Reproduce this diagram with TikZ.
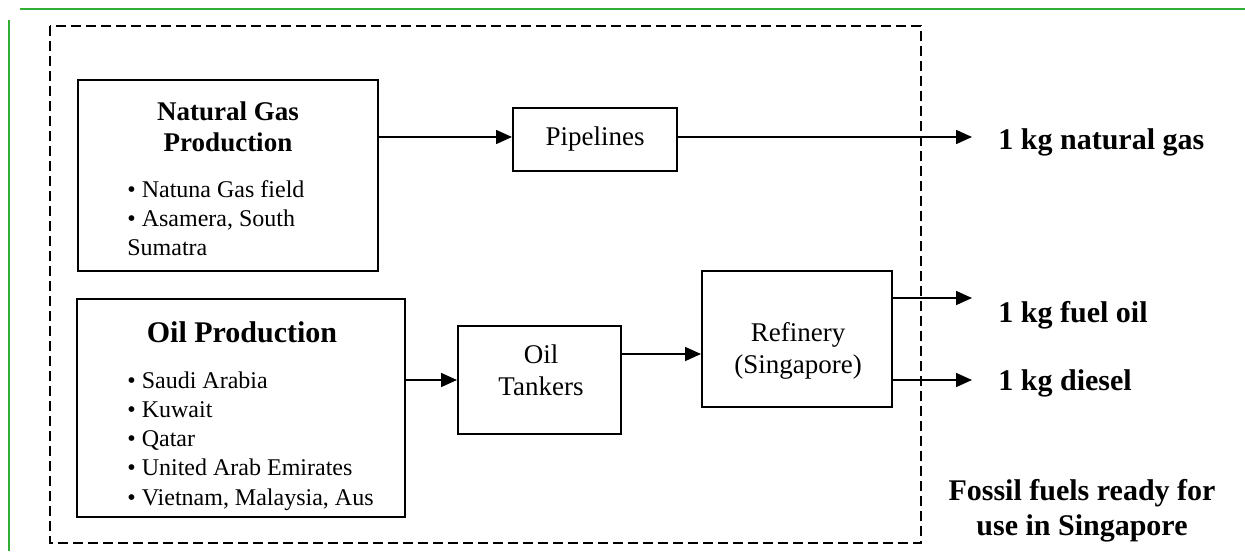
\documentclass[tikz,border=0pt]{standalone}
\usepackage{fontspec}
\setmainfont{Liberation Serif}
\usetikzlibrary{arrows.meta,calc}

\begin{document}
\begin{tikzpicture}[x=0.5pt,y=-0.5pt]

% --------------------
% Parameters (tweak these)
% --------------------
\def\tipX{972}    % x of all outgoing arrow tips
\def\outX{998}    % x where the product labels start
\def\bulX{127}    % left edge of the bullet lists

\tikzset{
  box/.style={draw, line width=1pt, inner sep=0pt},
  frame/.style={line width=0.9pt, dash pattern=on 5pt off 2.5pt},
  arrow/.style={-{Triangle[length=8pt,width=7pt]}, line width=0.8pt},
  title/.style={font=\bfseries\fontsize{13.5}{15.5}\selectfont, align=center, anchor=base, inner sep=0pt},
  items/.style={font=\fontsize{12}{14.4}\selectfont, align=left, anchor=base west, inner sep=0pt},
  txt/.style={font=\fontsize{13.5}{15.8}\selectfont, align=center, anchor=base, inner sep=0pt},
  prod/.style={font=\bfseries\fontsize{15}{17.5}\selectfont, anchor=base west, inner sep=0pt}
}

\useasboundingbox (0,0) rectangle (1245,551);

% screen frame
\draw[green!60!black!80, line width=1pt] (20,9.5) -- (1245,9.5);
\draw[green!60!black!80, line width=1pt] (8.5,20) -- (8.5,551);

% --------------------
% System boundary
% --------------------
\coordinate (fnw) at (50,26);
\coordinate (fse) at (921,543);
\draw[frame] (fnw) rectangle (fse);

% --------------------
% Production boxes (multi-line texts sit on their last baseline)
% --------------------
\node[box, minimum width=150pt, minimum height=95.5pt] (ng) at (228,175.5) {};
\node[title] (ngtitle) at (228,151) {Natural Gas\\Production};
\node[items] (nglist) at (\bulX,255)
  {• Natuna Gas field\\• Asamera, South\\Sumatra};

\node[box, minimum width=164pt, minimum height=109pt] (oil) at (241,408) {};
\node[title, font=\bfseries\fontsize{15}{17}\selectfont] (oiltitle) at (242,342) {Oil Production};
\node[items, font=\fontsize{12}{14.6}\selectfont] (oillist) at (\bulX,505)
  {• Saudi Arabia\\• Kuwait\\• Qatar\\• United Arab Emirates\\• Vietnam, Malaysia, Aus};

% --------------------
% Transport and refining
% --------------------
\node[box, minimum width=82pt, minimum height=31.5pt] (pipe) at (595,139.5) {};
\node[txt] (pipelbl) at (595,145) {Pipelines};

\node[box, minimum width=81.5pt, minimum height=54pt] (tank) at (539.5,380) {};
\node[txt, font=\fontsize{13.5}{16}\selectfont] (tanklbl) at (541,395) {Oil\\Tankers};

\node[box, minimum width=95pt, minimum height=68pt] (ref) at (797,339) {};
\node[txt] (reflbl) at (798,373) {Refinery\\(Singapore)};

% --------------------
% Products
% --------------------
\coordinate (gasend)  at (\tipX,137);
\coordinate (fuelend) at (\tipX,298);
\coordinate (dslend)  at (\tipX,380);

\node[prod] (gas)  at (\outX,149) {1 kg natural gas};
\node[prod] (fuel) at (\outX,322) {1 kg fuel oil};
\node[prod] (dsl)  at (\outX,390) {1 kg diesel};

\node[prod, align=center, anchor=base] (ready) at (1082,535)
  {Fossil fuels ready for\\use in Singapore};

% --------------------
% Flows
% --------------------
\draw[arrow] (ng.east |- gasend) -- (pipe.west |- gasend);
\draw[arrow] (pipe.east |- gasend) -- (gasend);
\draw[arrow] (oil.east |- tank.west) -- (tank.west);
\draw[arrow] ([yshift=13pt]tank.east) -- ([yshift=13pt]tank.east -| ref.west);
\draw[arrow] (ref.east |- fuelend) -- (fuelend);
\draw[arrow] (ref.east |- dslend) -- (dslend);

\end{tikzpicture}
\end{document}
